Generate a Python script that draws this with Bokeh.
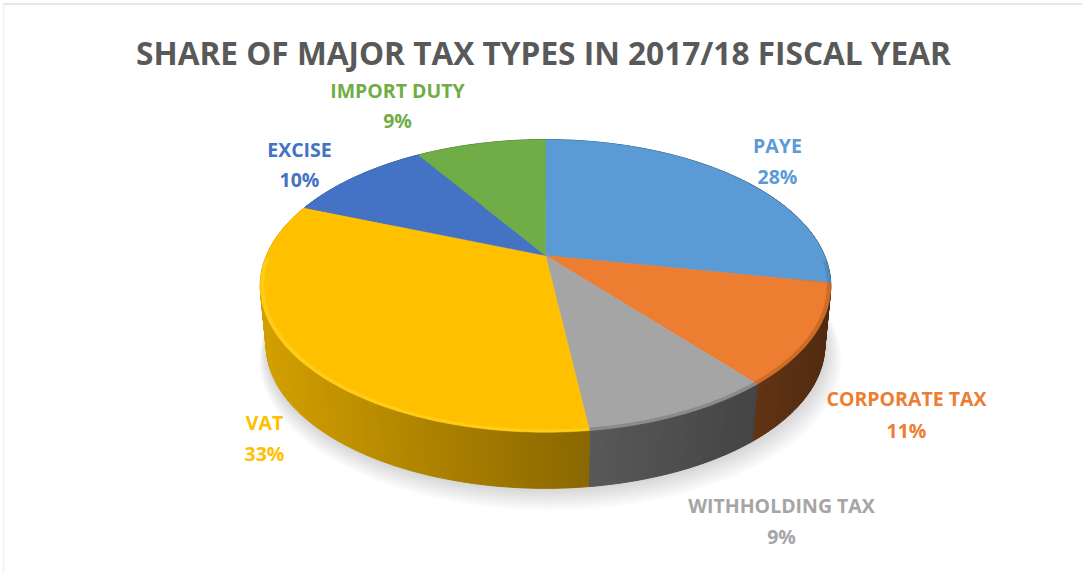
import numpy as np
from bokeh.plotting import figure
from bokeh.embed import file_html
from bokeh.resources import INLINE
from bokeh.core.properties import value

TITLE = "SHARE OF MAJOR TAX TYPES IN 2017/18 FISCAL YEAR"
categories = ["PAYE", "CORPORATE TAX", "WITHHOLDING TAX", "VAT", "EXCISE", "IMPORT DUTY"]
shares = [28, 11, 9, 33, 10, 9]
colors = ["#5B9BD5", "#ED7D31", "#A5A5A5", "#FFC000", "#4472C4", "#70AD47"]
rim_colors = ["#4A80B0", "#B9611F", "#7A7A7A", "#FFD426", "#38609F", "#5C8F3A"]
label_colors = ["#5B9BD5", "#ED7D31", "#A5A5A5", "#FFC000", "#4472C4", "#70AD47"]

label_x = [777, 906, 781, 264, 299, 397]
label_y = [145, 398, 505, 422, 149, 90]
pct_y = [176, 430, 536, 453, 179, 120]

# perspective of the pie disc, in page pixels
CX, CY, A, B, K = 545.0, 255.0, 279.0, 140.0, -0.208
DEPTH, BOTTOM_SCALE = 60.5, 0.98


def project(theta, r=1.0, dy=0.0, dx=0.0):
    u = r * np.sin(theta)
    v = -r * np.cos(theta)
    d = 1 + K * v
    return CX + dx + A * u / d, CY + dy + B * v / d


def shade(x):
    return np.interp(x, [262, 590, 750, 832], [0.83, 0.54, 0.42, 0.34])


def dim(col, f):
    r, g, b = int(col[1:3], 16), int(col[3:5], 16), int(col[5:7], 16)
    return "#%02x%02x%02x" % (int(r * f), int(g * f), int(b * f))


p = figure(width=1082, height=573, x_range=(0, 1082), y_range=(573, 0),
           toolbar_location=None, output_backend="svg", min_border=0,
           margin=0, outline_line_color=None, background_fill_color="white")
p.axis.visible = False
p.grid.visible = False

# page frame
p.line([3, 1082], [3.5, 3.5], line_color="#E6E6E6", line_width=2)
p.line([3, 3], [3.5, 573], line_color="#F2F2F2", line_width=1.5)

# soft shadow
circle = np.linspace(0, 2 * np.pi, 180)
for i in range(10, 0, -1):
    sx, sy = project(circle, BOTTOM_SCALE + 0.004 * i, DEPTH + 1.3 * i, 0.5 * i)
    p.patch(sx, sy, fill_color="black", fill_alpha=0.014, line_color=None)

edges = np.cumsum([0] + shares) / sum(shares) * 2 * np.pi

# walls, back to front
quads = []
for k in range(len(shares)):
    n = max(2, shares[k] * 4)
    t = np.linspace(edges[k], edges[k + 1], n + 1)
    for a0, a1 in zip(t[:-1], t[1:]):
        x0, y0 = project(a0)
        x1, y1 = project(a1)
        x2, y2 = project(a1, BOTTOM_SCALE, DEPTH)
        x3, y3 = project(a0, BOTTOM_SCALE, DEPTH)
        col = dim(colors[k], float(shade((x0 + x1) / 2)))
        quads.append(((y0 + y1) / 2, [x0, x1, x2, x3], [y0, y1, y2, y3], col))
quads.sort(key=lambda q: q[0])
cs = [q[3] for q in quads]
p.patches([q[1] for q in quads], [q[2] for q in quads], fill_color=cs, line_color=cs, line_width=1)

# top faces
xs, ys = [], []
for k in range(len(shares)):
    t = np.linspace(edges[k], edges[k + 1], max(4, shares[k] * 3))
    ax, ay = project(t)
    xs.append([CX] + list(ax))
    ys.append([CY] + list(ay))
p.patches(xs, ys, fill_color=colors, line_color=colors, line_width=0.5)

# bevel on the rim of the front half
for k in range(len(shares)):
    t = np.linspace(edges[k], edges[k + 1], max(4, shares[k] * 3))
    t = t[-np.cos(t) > 0.02]
    if len(t) < 2:
        continue
    ox, oy = project(t, 1.0)
    ix, iy = project(t, 0.987)
    p.patch(list(ox) + list(ix[::-1]), list(oy) + list(iy[::-1]),
            fill_color=rim_colors[k], line_color=None, fill_alpha=0.6)

FONT = value("Open Sans")
p.text([543], [52], text=[TITLE], text_font=FONT, text_font_style="bold", text_font_size="31.6px",
       text_color="#595959", text_align="center", text_baseline="middle")
p.text(label_x, label_y, text=categories, text_font=FONT, text_font_style="bold",
       text_font_size="19.5px", text_color=label_colors, text_align="center", text_baseline="middle")
p.text(label_x, pct_y, text=[f"{s}%" for s in shares], text_font=FONT, text_font_style="bold",
       text_font_size="19.5px", text_color=label_colors, text_align="center", text_baseline="middle")

open("out.html", "w").write(file_html(p, INLINE))
